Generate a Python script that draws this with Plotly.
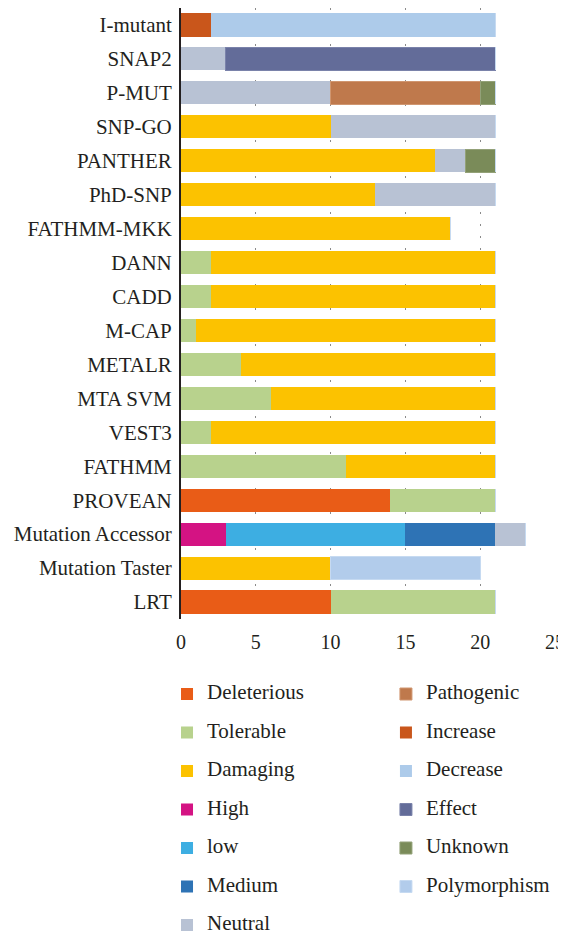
import plotly.graph_objects as go

categories = ["I-mutant", "SNAP2", "P-MUT", "SNP-GO", "PANTHER", "PhD-SNP", "FATHMM-MKK",
              "DANN", "CADD", "M-CAP", "METALR", "MTA SVM", "VEST3", "FATHMM", "PROVEAN",
              "Mutation Accessor", "Mutation Taster", "LRT"]

deleterious  = [0, 0, 0, 0, 0, 0, 0, 0, 0, 0, 0, 0, 0, 0, 14, 0, 0, 10]
tolerable    = [0, 0, 0, 0, 0, 0, 0, 2, 2, 1, 4, 6, 2, 11, 7, 0, 0, 11]
damaging     = [0, 0, 0, 10, 17, 13, 18, 19, 19, 20, 17, 15, 19, 10, 0, 0, 10, 0]
high         = [0, 0, 0, 0, 0, 0, 0, 0, 0, 0, 0, 0, 0, 0, 0, 3, 0, 0]
low          = [0, 0, 0, 0, 0, 0, 0, 0, 0, 0, 0, 0, 0, 0, 0, 12, 0, 0]
medium       = [0, 0, 0, 0, 0, 0, 0, 0, 0, 0, 0, 0, 0, 0, 0, 6, 0, 0]
neutral      = [0, 3, 10, 11, 2, 8, 0, 0, 0, 0, 0, 0, 0, 0, 0, 2, 0, 0]
pathogenic   = [0, 0, 10, 0, 0, 0, 0, 0, 0, 0, 0, 0, 0, 0, 0, 0, 0, 0]
increase     = [2, 0, 0, 0, 0, 0, 0, 0, 0, 0, 0, 0, 0, 0, 0, 0, 0, 0]
decrease     = [19, 0, 0, 0, 0, 0, 0, 0, 0, 0, 0, 0, 0, 0, 0, 0, 0, 0]
effect       = [0, 18, 0, 0, 0, 0, 0, 0, 0, 0, 0, 0, 0, 0, 0, 0, 0, 0]
unknown      = [0, 0, 1, 0, 2, 0, 0, 0, 0, 0, 0, 0, 0, 0, 0, 0, 0, 0]
polymorphism = [0, 0, 0, 0, 0, 0, 0, 0, 0, 0, 0, 0, 0, 0, 0, 0, 10, 0]

x_ticks = [0, 5, 10, 15, 20, 25]

# name, values, fill, outline (None = no outline), legend
series = [
    ("Deleterious", deleterious, "#E95C17", None, "legend"),
    ("Tolerable", tolerable, "#B8D28D", None, "legend"),
    ("Damaging", damaging, "#FCC200", None, "legend"),
    ("High", high, "#D41383", None, "legend"),
    ("low", low, "#3DAEE2", None, "legend"),
    ("Medium", medium, "#2E73B5", None, "legend"),
    ("Neutral", neutral, "#B8C2D4", None, "legend"),
    ("Pathogenic", pathogenic, "#BF794C", "#D09670", "legend2"),
    ("Increase", increase, "#C9561B", None, "legend2"),
    ("Decrease", decrease, "#ADCBEA", None, "legend2"),
    ("Effect", effect, "#636C99", "#7A82AA", "legend2"),
    ("Unknown", unknown, "#7A8B59", "#93A178", "legend2"),
    ("Polymorphism", polymorphism, "#B2CCEB", "#C6DAF1", "legend2"),
]

FONT = "Liberation Serif"
TXT = "#231F20"

fig = go.Figure()
for name, vals, color, outline, leg in series:
    fig.add_trace(go.Bar(
        name=f'<span style="font-size:21px">{name}</span>',
        y=categories, x=vals, orientation="h",
        marker=dict(color=color,
                    line=dict(width=1 if outline else 0, color=outline or color)),
        legend=leg, legendgroup=name,
    ))

legend_common = dict(
    orientation="v", traceorder="grouped", tracegroupgap=17.3,
    font=dict(family=FONT, size=14, color=TXT),
    bgcolor="rgba(0,0,0,0)", yanchor="top", xanchor="left",
    xref="paper", yref="container",
)

fig.update_layout(
    width=558, height=934,
    margin=dict(l=173, r=11, t=0, b=323),
    barmode="stack", bargap=0.32,
    plot_bgcolor="white", paper_bgcolor="white",
    font=dict(family=FONT, size=21, color=TXT),
    xaxis=dict(
        range=[0, 25], tickvals=x_ticks, showgrid=True,
        gridcolor="#8a8a8a", griddash="2px,10px", gridwidth=1,
        zeroline=False, showline=False,
        ticks="outside", ticklen=5, tickcolor="rgba(0,0,0,0)",
        tickfont=dict(family=FONT, size=20, color=TXT),
        automargin=False,
    ),
    yaxis=dict(
        categoryorder="array", categoryarray=categories, autorange="reversed",
        showline=True, linecolor="#231F20", linewidth=2,
        ticks="outside", ticklen=3, tickcolor="rgba(0,0,0,0)",
        showgrid=False, zeroline=False,
        tickfont=dict(family=FONT, size=21, color=TXT),
        automargin=False,
    ),
    legend=dict(x=-0.0374, y=1 - 670.4 / 934, **legend_common),
    legend2=dict(x=0.548, y=1 - 670.4 / 934, **legend_common),
    showlegend=True,
)

fig.write_html("out.html")
